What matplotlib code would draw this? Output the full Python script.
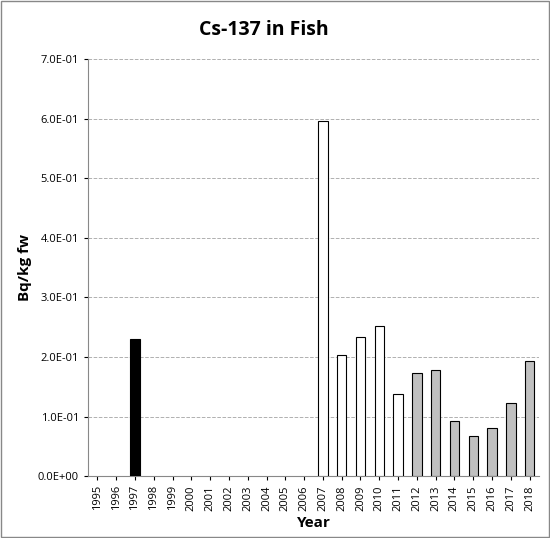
import numpy as np
import matplotlib.pyplot as plt
from matplotlib.patches import Rectangle

years = [str(y) for y in range(1995, 2019)]
values = [0, 0, 0.231, 0, 0, 0, 0, 0, 0, 0, 0, 0, 0.597, 0.204, 0.234, 0.252,
          0.138, 0.173, 0.178, 0.093, 0.067, 0.080, 0.122, 0.194]
colors = ['black' if y == '1997' else ('#c0c0c0' if int(y) >= 2012 else 'white') for y in years]

plt.rcParams['font.family'] = ['Open Sans', 'DejaVu Sans']
fig = plt.figure(figsize=(5.5, 5.38), dpi=100)
ax = fig.add_axes([0.16, 0.115, 0.82, 0.775])

x = np.arange(len(years))
mask = [v > 0 for v in values]
ax.bar(x[mask], np.array(values)[mask], width=0.5,
       color=np.array(colors)[mask], edgecolor='black', linewidth=0.8, zorder=3)

ax.set_xlim(-0.5, len(years) - 0.5)
ax.set_ylim(0, 0.7)
ax.set_yticks(np.arange(0, 0.71, 0.1))
ax.set_yticklabels(['%.1E' % v for v in np.arange(0, 0.71, 0.1)], fontsize=8)
ax.set_xticks(x)
ax.set_xticklabels(years, rotation=90, fontsize=8)
ax.yaxis.grid(True, linestyle='--', color='#b0b0b0', linewidth=0.7, zorder=0)
ax.tick_params(length=3)
for s in ['top', 'right']:
    ax.spines[s].set_visible(False)
ax.spines['left'].set_color('#888888')
ax.spines['bottom'].set_color('#888888')

ax.set_xlabel('Year', fontsize=11, fontweight='bold')
ax.set_ylabel('Bq/kg fw', fontsize=11, fontweight='bold')
fig.text(0.48, 0.935, 'Cs-137 in Fish', ha='center', fontsize=14, fontweight='bold')

fig.patches.append(Rectangle((0.002, 0.002), 0.996, 0.996, transform=fig.transFigure,
                             fill=False, edgecolor='#888888', linewidth=1))

fig.savefig('out.png', dpi=100)
